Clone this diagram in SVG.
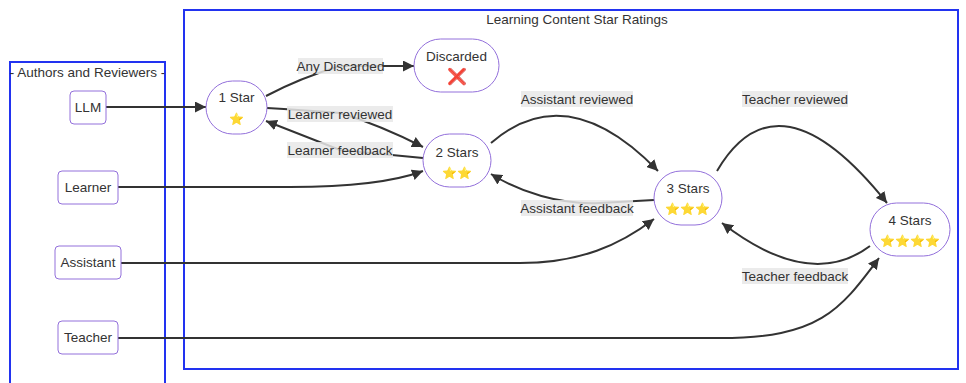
<svg xmlns="http://www.w3.org/2000/svg" width="966" height="383" viewBox="0 0 966 383">
  <style>
    text { font-family: "Liberation Sans", Arial, sans-serif; font-size: 13.5px; fill: #333333; }
    .cluster { fill: none; stroke: #2233f0; stroke-width: 2; }
    .box { fill: #ffffff; stroke: #9370db; stroke-width: 1; }
    .edge { fill: none; stroke: #333333; stroke-width: 2; }
    .lbl { fill: #e8e8e8; opacity: 0.85; }
    .mid { text-anchor: middle; }
    .emoji { font-family: "Noto Color Emoji", "DejaVu Sans", sans-serif; font-size: 12px; fill: #f5b800; }
    .cross { font-family: "DejaVu Sans", sans-serif; font-size: 16px; fill: #dd2222; }
  </style>
  <defs>
    <marker id="arrow" viewBox="0 0 10 10" refX="10" refY="5" markerUnits="userSpaceOnUse" markerWidth="11" markerHeight="11" orient="auto">
      <path d="M0,0 L10,5 L0,10 z" fill="#333333"/>
    </marker>
  </defs>

  <rect width="966" height="383" fill="#ffffff"/>

  <!-- subgraph frames -->
  <g id="authors-and-reviewers">
    <rect class="cluster" x="10" y="62" width="155" height="330"/>
    <text class="mid" x="87.5" y="77">- Authors and Reviewers -</text>
  </g>
  <g id="star-ratings">
    <rect class="cluster" x="184" y="10" width="774" height="359"/>
    <text class="mid" x="577" y="24">Learning Content Star Ratings</text>
  </g>

  <!-- connectors -->
  <g id="edges">
    <path class="edge" marker-end="url(#arrow)" d="M106,107 L206,107"/>
    <path class="edge" marker-end="url(#arrow)" d="M118,187 L290,187 Q380,187 423,171"/>
    <path class="edge" marker-end="url(#arrow)" d="M121,263 L520,263 C580,263 620,245 654,219"/>
    <path class="edge" marker-end="url(#arrow)" d="M118,338 L720,338 C820,338 840,310 879,258"/>
    <path class="edge" marker-end="url(#arrow)" d="M266,96 Q300,78 340,66 L414,66"/>
    <path class="edge" marker-end="url(#arrow)" d="M267,108 Q300,110 340,113 Q380,125 423,147"/>
    <path class="edge" marker-end="url(#arrow)" d="M423,158 L340,150 L266,121"/>
    <path class="edge" marker-end="url(#arrow)" d="M491,143 Q567,77 658,171"/>
    <path class="edge" marker-end="url(#arrow)" d="M654,200 L600,203 C560,205 520,192 491,174"/>
    <path class="edge" marker-end="url(#arrow)" d="M717,171 Q778,67 887,203"/>
    <path class="edge" marker-end="url(#arrow)" d="M870,246 Q810,291 722,223"/>

    <!-- edge labels -->
    <rect class="lbl" x="298" y="58" width="85" height="16"/>
    <text class="mid" x="340.5" y="71">Any Discarded</text>
    <rect class="lbl" x="287" y="106" width="106" height="16"/>
    <text class="mid" x="340" y="119">Learner reviewed</text>
    <rect class="lbl" x="287" y="142" width="106" height="16"/>
    <text class="mid" x="340" y="155">Learner feedback</text>
    <rect class="lbl" x="521" y="91" width="112" height="16"/>
    <text class="mid" x="577" y="104">Assistant reviewed</text>
    <rect class="lbl" x="521" y="200" width="112" height="16"/>
    <text class="mid" x="577" y="213">Assistant feedback</text>
    <rect class="lbl" x="742" y="91" width="106" height="16"/>
    <text class="mid" x="795" y="104">Teacher reviewed</text>
    <rect class="lbl" x="742" y="268" width="106" height="16"/>
    <text class="mid" x="795" y="281">Teacher feedback</text>
  </g>

  <!-- author nodes -->
  <g id="llm">
    <rect class="box" x="70" y="91" width="36" height="33" rx="4"/>
    <text class="mid" x="88" y="112">LLM</text>
  </g>
  <g id="learner">
    <rect class="box" x="58" y="171" width="60" height="33" rx="4"/>
    <text class="mid" x="88" y="192">Learner</text>
  </g>
  <g id="assistant">
    <rect class="box" x="55" y="246" width="66" height="33" rx="4"/>
    <text class="mid" x="88" y="267">Assistant</text>
  </g>
  <g id="teacher">
    <rect class="box" x="58" y="321" width="60" height="33" rx="4"/>
    <text class="mid" x="88" y="342">Teacher</text>
  </g>

  <!-- rating nodes -->
  <g id="one-star">
    <rect class="box" x="206" y="81" width="61" height="53" rx="26.5"/>
    <text class="mid" x="236.5" y="102">1 Star</text>
    <text class="mid emoji" x="236.5" y="123">⭐</text>
  </g>
  <g id="discarded">
    <rect class="box" x="414" y="39" width="85" height="53" rx="26.5"/>
    <text class="mid" x="456.5" y="61">Discarded</text>
    <text class="mid cross" x="457" y="82">❌</text>
  </g>
  <g id="two-stars">
    <rect class="box" x="423" y="134" width="68" height="53" rx="26.5"/>
    <text class="mid" x="457" y="157">2 Stars</text>
    <text class="mid emoji" x="457" y="177">⭐⭐</text>
  </g>
  <g id="three-stars">
    <rect class="box" x="654" y="171" width="68" height="54" rx="27"/>
    <text class="mid" x="688" y="193">3 Stars</text>
    <text class="mid emoji" x="688" y="213">⭐⭐⭐</text>
  </g>
  <g id="four-stars">
    <rect class="box" x="870" y="203" width="80" height="53" rx="26.5"/>
    <text class="mid" x="910" y="225">4 Stars</text>
    <text class="mid emoji" x="910" y="245">⭐⭐⭐⭐</text>
  </g>
</svg>
